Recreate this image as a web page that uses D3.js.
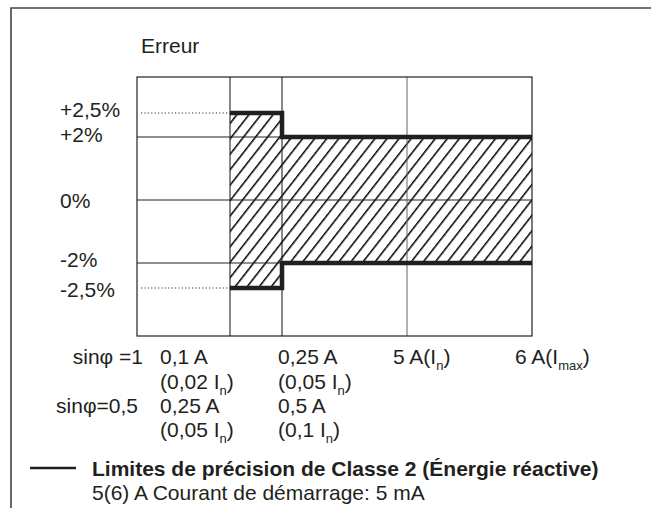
<!DOCTYPE html>
<html><head><meta charset="utf-8">
<script src="https://cdn.jsdelivr.net/npm/d3@7"></script>
<style>
html,body{margin:0;padding:0;background:#fff;}
svg{display:block;font-family:"Liberation Sans",Arial,sans-serif;}
</style></head>
<body>
<svg id="chart" width="651" height="508"></svg>
<script>
// ---- data ----
const yTickValues = [2.5, 2, 0, -2, -2.5];
const yTickLabels = ["+2,5%", "+2%", "0%", "-2%", "-2,5%"];
const gridY = [2, 0, -2];
const gridX = [1, 2, 3];           // category boundaries (index positions)
const segStart = [1, 2];
const segEnd = [2, 4];
const upperLimit = [2.5, 2];
const lowerLimit = [-2.5, -2];
const rowPF1 = ["0,1 A", "0,25 A"];
const rowPF1In = ["0,02", "0,05"];
const rowPF05 = ["0,25 A", "0,5 A"];
const rowPF05In = ["0,05", "0,1"];
const currentLabels = [{main: "5 A(I", sub: "n"}, {main: "6 A(I", sub: "max"}];
const legendTitle = "Limites de précision de Classe 2 (Énergie réactive)";
const legendSub = "5(6) A Courant de démarrage: 5 mA";

const svg = d3.select("#chart");
const txt = "#231f20";
const fs = 21;

// schematic (non-uniform) scales
const x = d3.scaleLinear().domain([0, 1, 2, 3, 4]).range([137, 230, 282, 407, 532]);
const y = d3.scaleLinear().domain([-2.5, -2, 0, 2, 2.5]).range([288, 263, 200, 137, 113]);
const yTop = 77, yBot = 336;

// outer frame
svg.append("path").attr("d", `M11,508V8H651`).attr("fill", "none")
  .attr("stroke", "#444").attr("stroke-width", 1.6);

// hatch pattern
const defs = svg.append("defs");
defs.append("pattern").attr("id", "hatch").attr("patternUnits", "userSpaceOnUse")
  .attr("width", 9.5).attr("height", 9.5).attr("patternTransform", "rotate(38)")
  .append("line").attr("x1", 0).attr("y1", -2).attr("x2", 0).attr("y2", 12)
  .attr("stroke", "#000").attr("stroke-width", 3);

// hatched zone
const areaData = [];
segStart.forEach((s, i) => {
  areaData.push({x: s, hi: upperLimit[i], lo: lowerLimit[i]});
  areaData.push({x: segEnd[i], hi: upperLimit[i], lo: lowerLimit[i]});
});
const area = d3.area().x(d => x(d.x)).y0(d => y(d.lo)).y1(d => y(d.hi));
svg.append("path").datum(areaData).attr("d", area).attr("fill", "url(#hatch)");

// grid lines
svg.selectAll(".gy").data(gridY).join("line")
  .attr("x1", x(0)).attr("x2", x(4)).attr("y1", d => y(d)).attr("y2", d => y(d))
  .attr("stroke", "#222").attr("stroke-width", 1);
svg.selectAll(".gx").data(gridX).join("line")
  .attr("x1", d => x(d)).attr("x2", d => x(d)).attr("y1", yTop).attr("y2", yBot)
  .attr("stroke", (d, i) => i === 2 ? "#666" : "#111").attr("stroke-width", 1);

// plot frame
svg.append("rect").attr("x", x(0)).attr("y", yTop).attr("width", x(4) - x(0)).attr("height", yBot - yTop)
  .attr("fill", "none").attr("stroke", "#222").attr("stroke-width", 1.2);

// dotted leaders for ±2.5%
svg.selectAll(".dot").data([2.5, -2.5]).join("line")
  .attr("x1", 141).attr("x2", x(1)).attr("y1", d => y(d)).attr("y2", d => y(d))
  .attr("stroke", "#333").attr("stroke-width", 1.2).attr("stroke-dasharray", "1.2,2.2");

// thick limit lines
const stepLine = d3.line().x(d => x(d[0])).y(d => y(d[1]));
[upperLimit, lowerLimit].forEach(lim => {
  const pts = [];
  segStart.forEach((s, i) => { pts.push([s, lim[i]]); pts.push([segEnd[i], lim[i]]); });
  svg.append("path").datum(pts).attr("d", stepLine).attr("fill", "none")
    .attr("stroke", "#231f20").attr("stroke-width", 4.5).attr("stroke-linejoin", "miter");
});

// y labels
const yOff = {"2.5": -4, "2": -3, "0": 0, "-2": -4, "-2.5": 1};
svg.selectAll(".yl").data(yTickValues).join("text")
  .attr("x", 60).attr("y", d => y(d) + yOff[String(d)])
  .attr("dominant-baseline", "central").attr("fill", txt).attr("font-size", fs)
  .text((d, i) => yTickLabels[i]);

// axis title
svg.append("text").attr("x", 141).attr("y", 45).attr("dominant-baseline", "central")
  .attr("fill", txt).attr("font-size", fs).text("Erreur");

// x labels
function sublabel(sel, xpos, ypos, pre, sub, post) {
  const t = sel.append("text").attr("x", xpos).attr("y", ypos).attr("fill", txt).attr("font-size", fs);
  t.append("tspan").text(pre);
  t.append("tspan").attr("font-size", 13).attr("dy", 6).text(sub);
  t.append("tspan").attr("dy", -6).text(post);
}
const r1 = 364, r2 = 389, r3 = 413, r4 = 437;
svg.append("text").attr("x", 143).attr("y", r1).attr("text-anchor", "end").attr("fill", txt).attr("font-size", fs).text("sinφ =1");
svg.append("text").attr("x", 138).attr("y", r3).attr("text-anchor", "end").attr("fill", txt).attr("font-size", fs).text("sinφ=0,5");
const colX = [160, 278];
[1, 2].forEach((c, i) => {
  const xp = colX[i];
  svg.append("text").attr("x", xp).attr("y", r1).attr("fill", txt).attr("font-size", fs).text(rowPF1[i]);
  sublabel(svg, xp, r2, "(" + rowPF1In[i] + " I", "n", ")");
  svg.append("text").attr("x", xp).attr("y", r3).attr("fill", txt).attr("font-size", fs).text(rowPF05[i]);
  sublabel(svg, xp, r4, "(" + rowPF05In[i] + " I", "n", ")");
});
[3, 4].forEach((c, i) => {
  const xp = x(c) - (i === 0 ? 14 : 17);
  sublabel(svg, xp, r1, currentLabels[i].main, currentLabels[i].sub, ")");
});

// legend
svg.append("line").attr("x1", 30).attr("x2", 76).attr("y1", 468).attr("y2", 468)
  .attr("stroke", "#231f20").attr("stroke-width", 2.5);
svg.append("text").attr("x", 92).attr("y", 468).attr("dominant-baseline", "central").attr("fill", txt).attr("font-size", fs)
  .attr("font-weight", "bold").text(legendTitle);
svg.append("text").attr("x", 92).attr("y", 492).attr("dominant-baseline", "central").attr("fill", txt).attr("font-size", fs).text(legendSub);
</script>
</body></html>
